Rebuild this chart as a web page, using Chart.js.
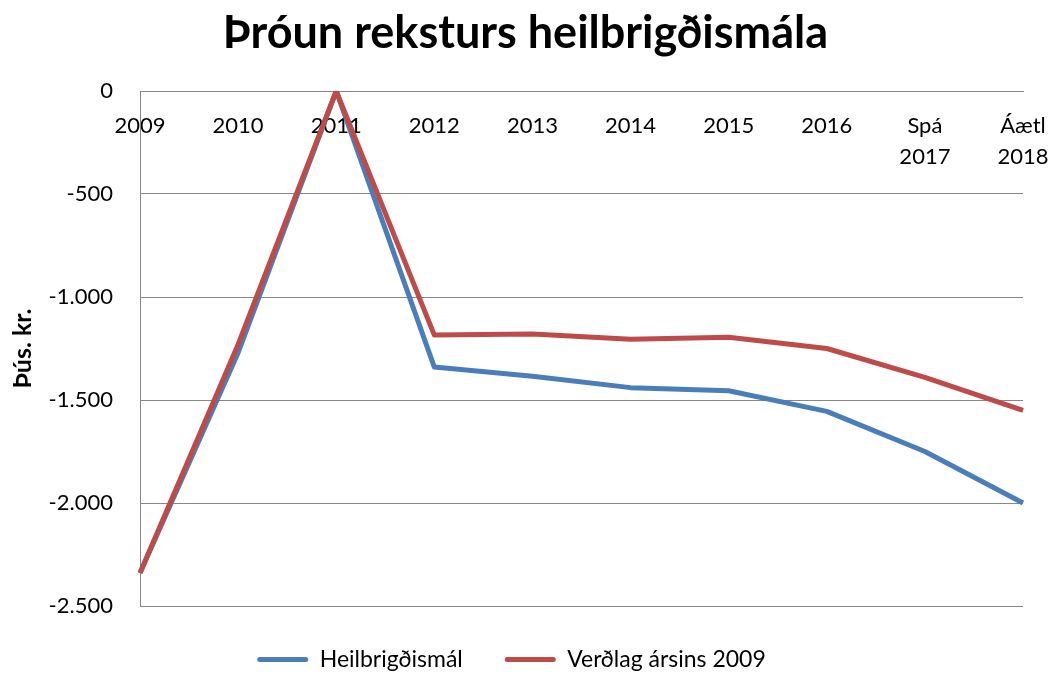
<!DOCTYPE html>
<html>
<head>
<meta charset="utf-8">
<script src="https://cdn.jsdelivr.net/npm/chart.js@4/dist/chart.umd.min.js"></script>
<style>
  html, body { margin: 0; padding: 0; background: #ffffff; }
  #wrap { width: 1054px; height: 675px; position: relative; }
</style>
</head>
<body>
<div id="wrap"><canvas id="c" width="1054" height="675"></canvas></div>
<script>
const categories = ['2009', '2010', '2011', '2012', '2013', '2014', '2015', '2016', ['Spá', '2017'], ['Áætl', '2018']];
const heilbrigdismal = [-2340, -1270, 0, -1340, -1385, -1440, -1455, -1555, -1750, -2000];
const verdlag2009 = [-2340, -1230, 0, -1185, -1180, -1205, -1195, -1250, -1390, -1550];
const seriesNames = ['Heilbrigðismál', 'Verðlag ársins 2009'];
const yTicks = [0, -500, -1000, -1500, -2000, -2500];
const chartTitle = 'Þróun reksturs heilbrigðismála';
const yAxisTitle = 'Þús. kr.';

const BLUE = '#4a7ebb';
const RED = '#be4b48';
const GRID = '#878787';
const FONT = 'Lato, "Noto Sans", sans-serif';

function fmt(v) {
  const s = String(Math.abs(v)).replace(/\B(?=(\d{3})+(?!\d))/g, '.');
  return (v < 0 ? '-' : '') + s;
}

// centre the title over the whole picture, as in the reference
const titleShift = {
  id: 'titleShift',
  afterLayout(chart) {
    const t = chart.titleBlock;
    if (t) { t.left += 14; t.right += 14; }
  }
};

new Chart(document.getElementById('c'), {
  type: 'line',
  data: {
    labels: categories,
    datasets: [
      { label: seriesNames[0], data: heilbrigdismal, borderColor: BLUE, backgroundColor: BLUE,
        borderWidth: 5, pointRadius: 0, tension: 0, order: 1, borderJoinStyle: 'round' },
      { label: seriesNames[1], data: verdlag2009, borderColor: RED, backgroundColor: RED,
        borderWidth: 5, pointRadius: 0, tension: 0, order: 0, borderJoinStyle: 'round' }
    ]
  },
  plugins: [titleShift],
  options: {
    responsive: false,
    animation: false,
    devicePixelRatio: 1,
    layout: { padding: { left: 0, right: 31, top: 0, bottom: -6 } },
    plugins: {
      title: {
        display: true, text: chartTitle, color: '#000',
        font: { family: FONT, size: 45, weight: 'bold' },
        padding: { top: 6, bottom: 31 }
      },
      legend: {
        position: 'bottom',
        labels: {
          color: '#000',
          font: { family: FONT, size: 23 },
          boxWidth: 51, boxHeight: 5, padding: 42,
          useBorderRadius: true, borderRadius: 2.5,
          generateLabels: (chart) => {
            const items = Chart.defaults.plugins.legend.labels.generateLabels(chart);
            items.sort((a, b) => a.datasetIndex - b.datasetIndex);
            return items.map(it => Object.assign(it, { lineWidth: 0 }));
          }
        }
      },
      tooltip: { enabled: false }
    },
    scales: {
      x: {
        type: 'category',
        position: { y: 0 },
        offset: false,
        afterFit: (s) => { s.paddingLeft = 0; s.paddingRight = 0; },
        grid: { display: false, drawTicks: false },
        border: { display: true, color: GRID, width: 1 },
        ticks: {
          color: '#000', padding: 20, maxRotation: 0, autoSkip: false,
          font: { family: FONT, size: 22, lineHeight: 1.38 }
        }
      },
      y: {
        min: -2500, max: 0,
        afterFit: (s) => { s.width = 140; },
        afterBuildTicks: (s) => { s.ticks = yTicks.map(v => ({ value: v })); },
        grid: { color: GRID, lineWidth: 1, drawTicks: false },
        border: { display: true, color: GRID, width: 1 },
        ticks: {
          color: '#000', padding: 27,
          font: { family: FONT, size: 22 },
          callback: (v) => fmt(v)
        },
        title: {
          display: true, text: yAxisTitle, color: '#000',
          font: { family: FONT, size: 25, weight: 'bold' },
          padding: { top: 8, bottom: 8 }
        }
      }
    }
  }
});
</script>
</body>
</html>
